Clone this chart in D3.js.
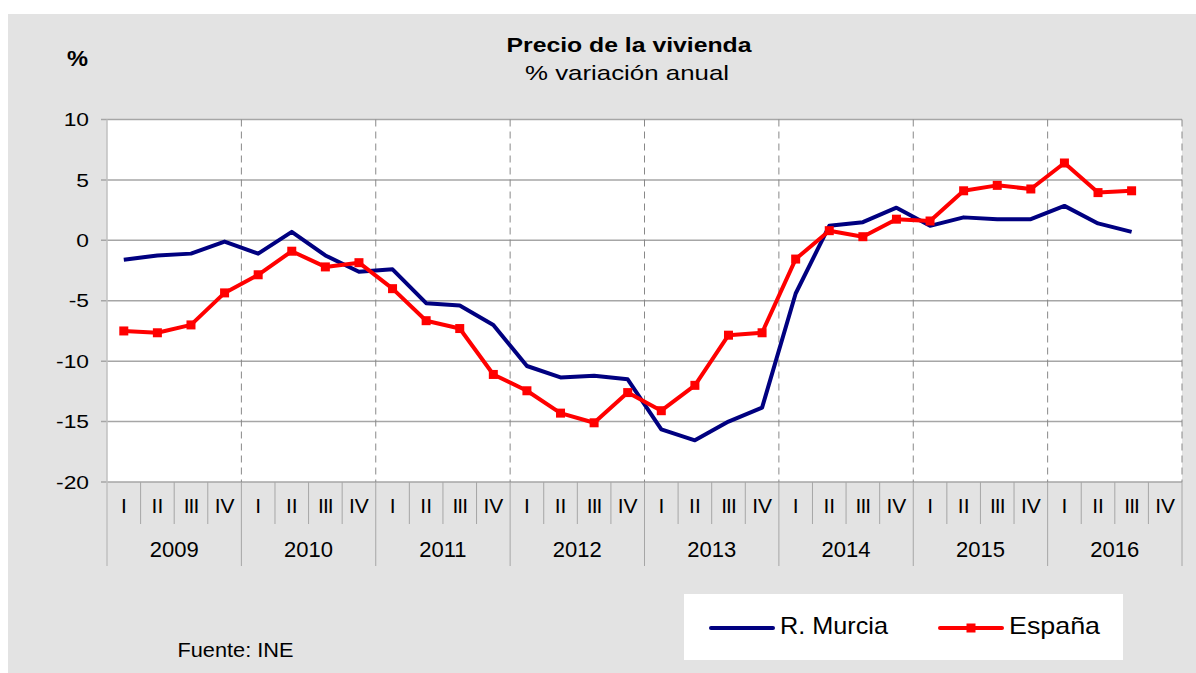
<!DOCTYPE html>
<html>
<head>
<meta charset="utf-8">
<script src="https://cdn.jsdelivr.net/npm/d3@7"></script>
<style>
  body { margin: 0; background: #fff; }
  text { font-family: "Liberation Sans", Arial, sans-serif; fill: #000; }
</style>
</head>
<body>
<div id="chart"></div>
<script>
// Data
const years = ["2009", "2010", "2011", "2012", "2013", "2014", "2015", "2016"];
const quarters = ["I", "II", "III", "IV"];
const murcia = [-1.6, -1.25, -1.1, -0.1, -1.1, 0.7, -1.25, -2.6,
    -2.4, -5.2, -5.4, -7.0, -10.4, -11.35, -11.2, -11.5,
    -15.65, -16.55, -15.0, -13.85, -4.4, 1.2, 1.5, 2.7,
    1.2, 1.9, 1.75, 1.75, 2.85, 1.4, 0.7];
const espana = [-7.5, -7.65, -7.0, -4.35, -2.85, -0.9, -2.2, -1.85,
    -4.0, -6.65, -7.3, -11.1, -12.45, -14.3, -15.1, -12.6,
    -14.1, -12.0, -7.85, -7.65, -1.55, 0.8, 0.3, 1.75,
    1.6, 4.1, 4.55, 4.25, 6.4, 3.95, 4.1];
const yTicks = [-20, -15, -10, -5, 0, 5, 10];

const width = 1196, height = 673;
const plotLeft = 107, plotRight = 1182, plotTop = 119.5, plotBottom = 482;

const svg = d3.select("#chart").append("svg")
    .attr("width", width)
    .attr("height", height);

// Gray panel
svg.append("rect")
    .attr("x", 8).attr("y", 14)
    .attr("width", width - 8).attr("height", height - 14)
    .attr("fill", "#e3e3e3");

// Plot area
svg.append("rect")
    .attr("x", plotLeft).attr("y", plotTop)
    .attr("width", plotRight - plotLeft).attr("height", plotBottom - plotTop)
    .attr("fill", "#fff");

// Scales
const slots = [];
years.forEach(yr => quarters.forEach(q => slots.push(yr + "-" + q)));

const x = d3.scaleBand()
    .domain(slots)
    .range([plotLeft, plotRight]);

const xYear = d3.scaleBand()
    .domain(years)
    .range([plotLeft, plotRight]);

const y = d3.scaleLinear()
    .domain([-20, 10])
    .range([plotBottom, plotTop]);

const yearEdge = d => d === "end" ? plotRight : xYear(d);

// Horizontal gridlines
svg.append("g")
    .selectAll("line")
    .data(yTicks)
    .join("line")
    .attr("x1", plotLeft - 6).attr("x2", plotRight)
    .attr("y1", d => y(d)).attr("y2", d => y(d))
    .attr("stroke", "#a6a6a6")
    .attr("stroke-width", 1.5);

// Vertical dashed year lines
svg.append("g")
    .selectAll("line")
    .data(years.slice(1).concat(["end"]))
    .join("line")
    .attr("x1", yearEdge)
    .attr("x2", yearEdge)
    .attr("y1", plotTop).attr("y2", plotBottom)
    .attr("stroke", "#888")
    .attr("stroke-width", 1)
    .attr("stroke-dasharray", "7,5");

// Left axis line
svg.append("line")
    .attr("x1", plotLeft).attr("x2", plotLeft)
    .attr("y1", plotTop).attr("y2", 566)
    .attr("stroke", "#c0c0c0")
    .attr("stroke-width", 1.5);

// Y tick labels (slightly wide, like the original)
svg.append("g")
    .attr("transform", "translate(89,0) scale(1.2,1)")
    .selectAll("text")
    .data(yTicks)
    .join("text")
    .attr("x", 0)
    .attr("y", d => y(d))
    .attr("dy", "0.35em")
    .attr("text-anchor", "end")
    .attr("font-size", 19)
    .text(d => d);

// Quarter separators and labels
svg.append("g")
    .selectAll("line")
    .data(slots.filter((d, i) => i % 4 !== 0))
    .join("line")
    .attr("x1", d => x(d)).attr("x2", d => x(d))
    .attr("y1", plotBottom).attr("y2", 524)
    .attr("stroke", "#a6a6a6")
    .attr("stroke-width", 1);

svg.append("g")
    .selectAll("text")
    .data(slots)
    .join("text")
    .attr("x", d => x(d) + x.bandwidth() / 2)
    .attr("y", 506)
    .attr("dy", "0.35em")
    .attr("text-anchor", "middle")
    .attr("font-size", 21)
    .attr("letter-spacing", d => d.endsWith("III") ? -1 : 0)
    .text(d => d.split("-")[1]);

// Year separators and labels
svg.append("g")
    .selectAll("line")
    .data(years.slice(1).concat(["end"]))
    .join("line")
    .attr("x1", yearEdge)
    .attr("x2", yearEdge)
    .attr("y1", plotBottom).attr("y2", 566)
    .attr("stroke", "#a6a6a6")
    .attr("stroke-width", 1);

svg.append("g")
    .selectAll("text")
    .data(years)
    .join("text")
    .attr("x", d => xYear(d) + xYear.bandwidth() / 2)
    .attr("y", 549)
    .attr("dy", "0.35em")
    .attr("text-anchor", "middle")
    .attr("font-size", 22)
    .text(d => d);

// Lines
const line = d3.line()
    .x((d, i) => x(slots[i]) + x.bandwidth() / 2)
    .y(d => y(d));

svg.append("path")
    .attr("d", line(murcia))
    .attr("fill", "none")
    .attr("stroke", "#000080")
    .attr("stroke-width", 4)
    .attr("stroke-linejoin", "round");

svg.append("path")
    .attr("d", line(espana))
    .attr("fill", "none")
    .attr("stroke", "#ff0000")
    .attr("stroke-width", 4)
    .attr("stroke-linejoin", "round");

svg.append("g")
    .selectAll("rect")
    .data(espana)
    .join("rect")
    .attr("x", (d, i) => x(slots[i]) + x.bandwidth() / 2 - 4.5)
    .attr("y", d => y(d) - 4.5)
    .attr("width", 9).attr("height", 9)
    .attr("fill", "#ff0000");

// Titles
svg.append("text")
    .attr("x", 629).attr("y", 52)
    .attr("text-anchor", "middle")
    .attr("font-size", 21)
    .attr("font-weight", "bold")
    .attr("textLength", 245)
    .attr("lengthAdjust", "spacingAndGlyphs")
    .text("Precio de la vivienda");

svg.append("text")
    .attr("x", 627).attr("y", 80)
    .attr("text-anchor", "middle")
    .attr("font-size", 21)
    .attr("textLength", 204)
    .attr("lengthAdjust", "spacingAndGlyphs")
    .text("% variación anual");

svg.append("text")
    .attr("x", 77.5).attr("y", 66)
    .attr("text-anchor", "middle")
    .attr("font-size", 22)
    .attr("font-weight", "bold")
    .attr("textLength", 21)
    .attr("lengthAdjust", "spacingAndGlyphs")
    .text("%");

// Legend
const legend = svg.append("g");
legend.append("rect")
    .attr("x", 684).attr("y", 594)
    .attr("width", 439).attr("height", 66)
    .attr("fill", "#fff");

legend.append("line")
    .attr("x1", 711).attr("x2", 773)
    .attr("y1", 628).attr("y2", 628)
    .attr("stroke", "#000080")
    .attr("stroke-width", 4)
    .attr("stroke-linecap", "round");

legend.append("text")
    .attr("x", 780).attr("y", 633.5)
    .attr("font-size", 24)
    .attr("textLength", 108)
    .attr("lengthAdjust", "spacingAndGlyphs")
    .text("R. Murcia");

legend.append("line")
    .attr("x1", 940).attr("x2", 1002)
    .attr("y1", 628).attr("y2", 628)
    .attr("stroke", "#ff0000")
    .attr("stroke-width", 4)
    .attr("stroke-linecap", "round");

legend.append("rect")
    .attr("x", 966.5).attr("y", 623.5)
    .attr("width", 9).attr("height", 9)
    .attr("fill", "#ff0000");

legend.append("text")
    .attr("x", 1009).attr("y", 633.5)
    .attr("font-size", 24)
    .attr("textLength", 91)
    .attr("lengthAdjust", "spacingAndGlyphs")
    .text("España");

// Source
svg.append("text")
    .attr("x", 177.5).attr("y", 656.5)
    .attr("font-size", 19.5)
    .attr("textLength", 116)
    .attr("lengthAdjust", "spacingAndGlyphs")
    .text("Fuente: INE");
</script>
</body>
</html>
